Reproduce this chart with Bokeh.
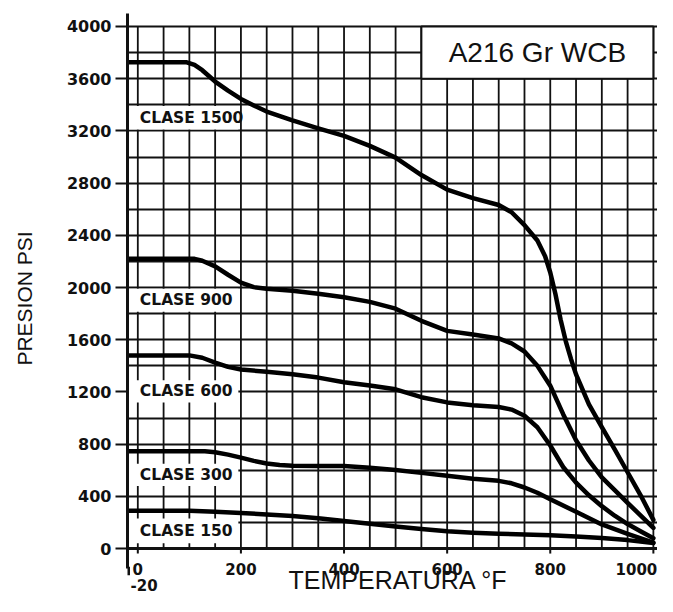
from bokeh.plotting import figure
from bokeh.models import FixedTicker, Range1d, Span
from bokeh.core.properties import value
from bokeh.embed import file_html
from bokeh.resources import INLINE

# ---- data ----
temp_1500 = [-20, 95, 110, 125, 150, 175, 200, 225, 250, 300, 350, 400, 450, 500, 550, 600,
             650, 700, 725, 750, 775, 790, 800, 810, 820, 830, 840, 850, 875, 900, 925, 950, 975, 1000]
pres_1500 = [3725, 3725, 3705, 3665, 3578, 3508, 3445, 3395, 3348, 3280, 3220, 3162, 3085, 2995, 2862, 2750,
             2685, 2632, 2577, 2478, 2360, 2240, 2115, 1950, 1755, 1590, 1455, 1335, 1105, 930, 760, 585, 410, 220]

temp_900 = [-20, 110, 125, 150, 175, 200, 225, 250, 300, 350, 400, 450, 500, 550, 600, 650, 700,
            725, 750, 775, 800, 825, 850, 875, 900, 925, 950, 975, 1000]
pres_900 = [2220, 2220, 2205, 2162, 2098, 2038, 2003, 1990, 1975, 1952, 1925, 1890, 1838, 1745, 1668, 1640, 1610,
            1572, 1510, 1400, 1248, 1030, 830, 675, 545, 448, 350, 255, 158]

temp_600 = [-20, 100, 125, 150, 175, 200, 250, 300, 350, 400, 450, 500, 550, 600, 650, 700,
            725, 750, 775, 800, 825, 850, 875, 900, 925, 950, 975, 1000]
pres_600 = [1480, 1480, 1462, 1425, 1392, 1372, 1355, 1335, 1310, 1275, 1250, 1220, 1160, 1120, 1098, 1085,
            1065, 1018, 930, 790, 625, 505, 408, 325, 252, 188, 133, 80]

temp_300 = [-20, 130, 150, 175, 200, 225, 250, 275, 300, 350, 400, 450, 500, 550, 600, 650, 700,
            725, 750, 775, 800, 850, 900, 950, 1000]
pres_300 = [745, 745, 738, 720, 697, 672, 652, 640, 634, 632, 632, 620, 602, 580, 558, 535, 519,
            500, 468, 428, 378, 282, 185, 112, 45]

temp_150 = [-20, 100, 150, 200, 250, 300, 350, 400, 450, 500, 550, 600, 650, 700, 750, 800, 850, 900, 950, 1000]
pres_150 = [290, 290, 282, 272, 262, 250, 232, 212, 190, 170, 150, 132, 122, 114, 108, 102, 93, 82, 65, 42]

class_names = ["CLASE 1500", "CLASE 900", "CLASE 600", "CLASE 300", "CLASE 150"]
name_y = [3300, 1902, 1205, 565, 135]
box_bottom = [3210, 1815, 1120, 480, 40]
box_top = [3390, 1990, 1290, 650, 230]

y_ticks = list(range(0, 4001, 400))
x_ticks = [0, 200, 400, 600, 800, 1000]
x_tick_labels = ["0", "200", "400", "600", "800", "1000"]
x_start = [-20]
x_start_label = ["-20"]
material = "A216 Gr WCB"
x_title = "TEMPERATURA °F"
y_title = "PRESION PSI"

INK = "#111111"

p = figure(width=657, height=596, x_range=Range1d(-20, 1008), y_range=Range1d(-367, 4199),
           output_backend="svg", toolbar_location=None, x_axis_location=None,
           min_border_left=127, min_border_right=0, min_border_top=0, min_border_bottom=0)
p.outline_line_color = None
p.background_fill_color = "white"
p.border_fill_color = "white"

# grid
p.xgrid.visible = False
p.ygrid.ticker = FixedTicker(ticks=list(range(0, 4001, 200)))
p.ygrid.grid_line_color = INK
p.ygrid.grid_line_width = 1.8
gx = list(range(0, 1001, 50))
p.segment(x0=gx, y0=[0] * len(gx), x1=gx, y1=[4000] * len(gx), line_color=INK, line_width=1.8)

# bottom axis (drawn at pressure 0)
p.add_layout(Span(location=0, dimension="width", line_color=INK, line_width=3))
p.segment(x0=x_ticks, y0=[0] * len(x_ticks), x1=x_ticks, y1=[-38] * len(x_ticks),
          line_color=INK, line_width=2)
p.segment(x0=x_start, y0=[-140], x1=x_start, y1=[-205], line_color=INK, line_width=5)
p.text(x=x_ticks[:-1], y=[-153] * (len(x_ticks) - 1), text=x_tick_labels[:-1],
       text_font=value("DejaVu Sans"), text_font_style="bold", text_font_size="15px",
       text_align="center", text_baseline="middle", text_color=INK)
p.text(x=x_ticks[-1:], y=[-153], text=x_tick_labels[-1:], x_offset=-17,
       text_font=value("DejaVu Sans"), text_font_style="bold", text_font_size="15px",
       text_align="center", text_baseline="middle", text_color=INK)
p.text(x=x_start, y=[-278], text=x_start_label, x_offset=3, text_font=value("DejaVu Sans"),
       text_font_style="bold", text_font_size="15px", text_align="left",
       text_baseline="middle", text_color=INK)
p.text(x=[505], y=[-240], text=[x_title], text_font=value("Liberation Sans"),
       text_font_size="25px", text_align="center", text_baseline="middle", text_color=INK)

# label boxes
n = len(class_names)
p.quad(left=[-20] * n, right=[195] * n, bottom=box_bottom, top=box_top,
       fill_color="white", line_color=None)
p.text(x=[4] * n, y=name_y, text=class_names, text_font=value("DejaVu Sans"),
       text_font_style="bold", text_font_size="15.5px", text_align="left",
       text_baseline="middle", text_color=INK)

p.quad(left=[550], right=[1000], bottom=[3600], top=[4000], fill_color="white",
       line_color=INK, line_width=2)
p.text(x=[775], y=[3800], text=[material], text_font=value("Liberation Sans"),
       text_font_size="28px", text_align="center", text_baseline="middle", text_color=INK)

# curves
for t, pr in [(temp_1500, pres_1500), (temp_900, pres_900), (temp_600, pres_600),
              (temp_300, pres_300), (temp_150, pres_150)]:
    p.line(t, pr, line_width=4.5, line_color="black", line_join="round", line_cap="round")

# left axis
ax = p.yaxis[0]
ax.bounds = (-150, 4100)
ax.axis_line_width = 3
ax.axis_line_color = INK
ax.major_tick_in = 0
ax.major_tick_out = 12
ax.major_tick_line_width = 2
ax.major_tick_line_color = INK
ax.minor_tick_line_color = None
ax.ticker = FixedTicker(ticks=y_ticks)
ax.major_label_standoff = 4
ax.major_label_text_font = "DejaVu Sans"
ax.major_label_text_font_style = "bold"
ax.major_label_text_font_size = "16px"
ax.major_label_text_color = INK
ax.axis_label = y_title
ax.axis_label_text_font = "Liberation Sans"
ax.axis_label_text_font_style = "normal"
ax.axis_label_text_font_size = "21px"
ax.axis_label_text_color = INK
ax.axis_label_standoff = 28

open("out.html", "w").write(file_html(p, INLINE))
